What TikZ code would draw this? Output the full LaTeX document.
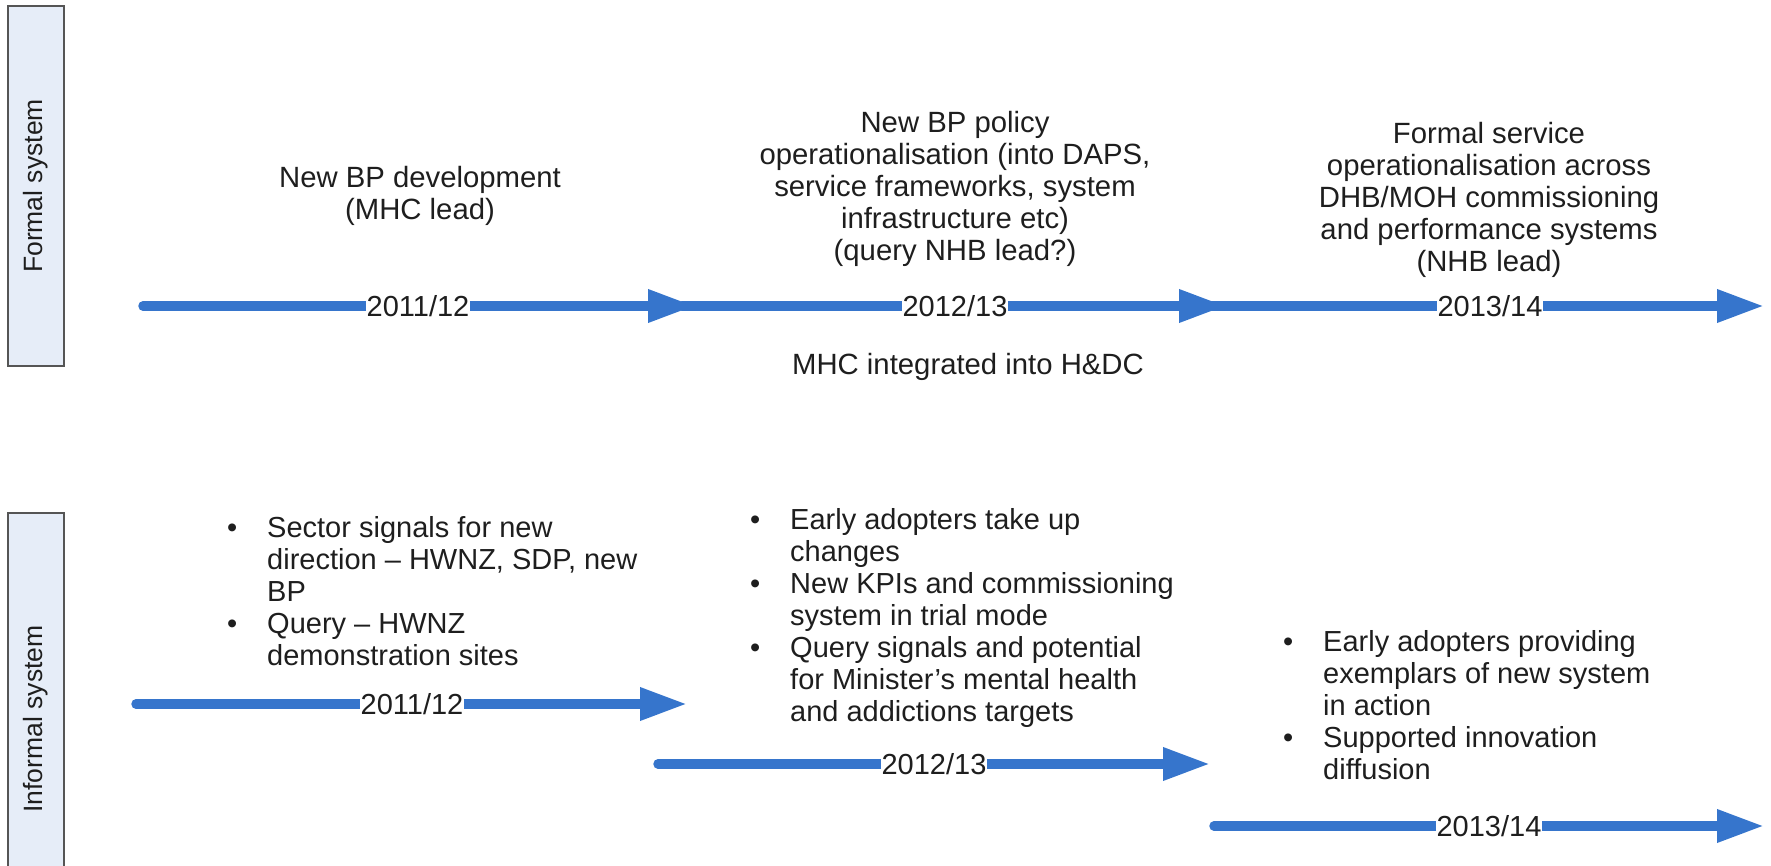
\documentclass[tikz,border=0pt]{standalone}
\usepackage{fontspec}
\setmainfont{Liberation Sans}
\usetikzlibrary{arrows.meta}
\definecolor{tlblue}{RGB}{54,117,204}
\definecolor{txt}{RGB}{30,30,30}
\definecolor{boxfill}{RGB}{230,237,248}
\definecolor{boxline}{RGB}{85,85,85}
\begin{document}
\begin{tikzpicture}[x=1pt,y=-1pt,
  tl/.style={draw=tlblue, line width=9.5pt, line cap=round, -{Triangle[length=47pt,width=31pt]}},
  yr/.style={fill=white, inner xsep=1pt, inner ysep=0pt, text=txt, font=\fontsize{29}{32}\selectfont},
  lbl/.style={align=center, text=txt, inner sep=0pt, font=\fontsize{29.3}{32}\selectfont},
  side/.style={draw=boxline, line width=2pt, fill=boxfill, rotate=90, text=txt, inner sep=0pt, font=\fontsize{26.5}{30}\selectfont},
  bul/.style={anchor=north west, inner sep=0pt, text=txt, font=\fontsize{29}{32}\selectfont}]
\useasboundingbox (0,0) rectangle (1771,866);
\begin{scope}
\clip (0,0) rectangle (1771,866);
\node[side, minimum width=359pt, minimum height=56pt] (formal) at (36,186) {Formal system};
\node[side, minimum width=412pt, minimum height=56pt] (informal) at (36,719) {Informal system};
\end{scope}

% formal timeline
\coordinate (a1s) at (143,306); \coordinate (a1e) at (695,306);
\coordinate (a2s) at (682,306); \coordinate (a2e) at (1226,306);
\coordinate (a3s) at (1212,306); \coordinate (a3e) at (1764,306);
\draw[tl] (a1s) -- (a1e);
\draw[tl] (a2s) -- (a2e);
\draw[tl] (a3s) -- (a3e);
\node[yr] (y1) at (418,306) {2011/12};
\node[yr] (y2) at (955,306) {2012/13};
\node[yr] (y3) at (1490,306) {2013/14};

% informal timeline
\coordinate (b1s) at (136,704); \coordinate (b1e) at (687,704);
\coordinate (b2s) at (658,764); \coordinate (b2e) at (1210,764);
\coordinate (b3s) at (1214,826); \coordinate (b3e) at (1764,826);
\draw[tl] (b1s) -- (b1e);
\draw[tl] (b2s) -- (b2e);
\draw[tl] (b3s) -- (b3e);
\node[yr] (z1) at (412,704) {2011/12};
\node[yr] (z2) at (934,764) {2012/13};
\node[yr] (z3) at (1489,826) {2013/14};

% formal texts
\node[lbl] (t1) at (420,196) {New BP development\\(MHC lead)};
\node[lbl] (t2) at (955,189) {New BP policy\\operationalisation (into DAPS,\\service frameworks, system\\infrastructure etc)\\(query NHB lead?)};
\node[lbl] (t3) at (1489,200) {Formal service\\operationalisation across\\DHB/MOH commissioning\\and performance systems\\(NHB lead)};
\node[lbl] (t4) at (968,367) {MHC integrated into H\&DC};

% informal bullets
\node[bul] (b1) at (227,515) {\begin{tabular}{@{}p{40pt}@{}l@{}}\textbullet & Sector signals for new\\ & direction – HWNZ, SDP, new\\ & BP\\ \textbullet & Query – HWNZ\\ & demonstration sites\end{tabular}};
\node[bul] (b2) at (750,507) {\begin{tabular}{@{}p{40pt}@{}l@{}}\textbullet & Early adopters take up\\ & changes\\ \textbullet & New KPIs and commissioning\\ & system in trial mode\\ \textbullet & Query signals and potential\\ & for Minister’s mental health\\ & and addictions targets\end{tabular}};
\node[bul] (b3) at (1283,629) {\begin{tabular}{@{}p{40pt}@{}l@{}}\textbullet & Early adopters providing\\ & exemplars of new system\\ & in action\\ \textbullet & Supported innovation\\ & diffusion\end{tabular}};
\end{tikzpicture}
\end{document}
